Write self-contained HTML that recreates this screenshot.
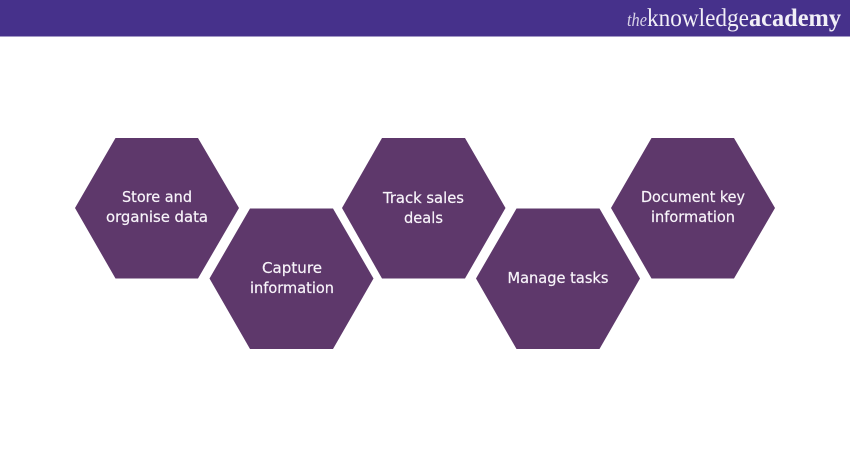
<!DOCTYPE html>
<html lang="en">
<head>
<meta charset="utf-8">
<title>Diagram</title>
<style>
html,body{margin:0;padding:0;background:#fff;width:850px;height:450px;overflow:hidden}
svg{display:block}
.l{font-family:"DejaVu Sans",sans-serif;font-size:15px;fill:#f8f4fa;stroke:#f8f4fa;stroke-width:.2px;text-anchor:middle}
.s{font-family:"Liberation Serif",serif;fill:#f1eff7}
</style>
</head>
<body>
<svg width="850" height="450" viewBox="0 0 850 450" xmlns="http://www.w3.org/2000/svg">
<rect width="850" height="450" fill="#fff"/>
<rect width="850" height="36.5" fill="#46318b"/>
<text class="s" x="627" y="26" font-size="19" font-style="italic" fill-opacity=".85" textLength="20" lengthAdjust="spacingAndGlyphs">the</text>
<text class="s" x="647" y="26" font-size="25" textLength="102" lengthAdjust="spacingAndGlyphs">knowledge</text>
<text class="s" x="749" y="26" font-size="25" font-weight="700" textLength="92" lengthAdjust="spacingAndGlyphs">academy</text>
<g fill="#5e386b">
<polygon points="115.5,138 198,138 239,208 198,278.500 115.500,278.500 75,208"/>
<polygon points="250,208.500 333,208.500 373.500,278.500 333,349 250,349 209.500,278.500"/>
<polygon points="382,138 465,138 505.500,208 465,278.500 382,278.500 342,208"/>
<polygon points="516.500,208.500 599.500,208.500 640,278.500 599.500,349 516.500,349 476,278.500"/>
<polygon points="651.500,138 734,138 775,208 734,278.500 651.500,278.500 611,208"/>
</g>
<text class="l" x="157" y="202" textLength="70" lengthAdjust="spacingAndGlyphs">Store and</text>
<text class="l" x="157" y="222" textLength="102" lengthAdjust="spacingAndGlyphs">organise data</text>
<text class="l" x="292" y="273" textLength="60" lengthAdjust="spacingAndGlyphs">Capture</text>
<text class="l" x="292" y="293" textLength="84" lengthAdjust="spacingAndGlyphs">information</text>
<text class="l" x="423.500" y="203" textLength="81" lengthAdjust="spacingAndGlyphs">Track sales</text>
<text class="l" x="423.500" y="223" textLength="39" lengthAdjust="spacingAndGlyphs">deals</text>
<text class="l" x="558" y="283" textLength="101" lengthAdjust="spacingAndGlyphs">Manage tasks</text>
<text class="l" x="693" y="202" textLength="104" lengthAdjust="spacingAndGlyphs">Document key</text>
<text class="l" x="693" y="222" textLength="84" lengthAdjust="spacingAndGlyphs">information</text>
</svg>
</body>
</html>
